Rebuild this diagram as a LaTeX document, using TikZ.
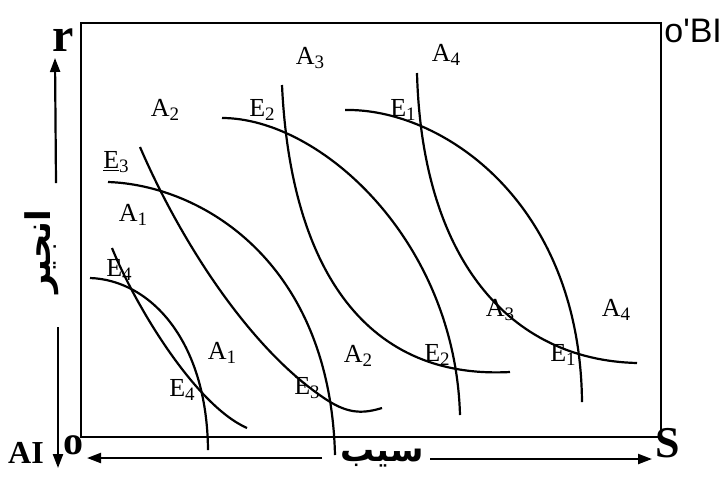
\documentclass[tikz,border=0pt]{standalone}
\usepackage{fontspec}
\setmainfont{Liberation Serif}
\newfontfamily\arabicfont[Script=Arabic]{DejaVu Sans}
\newfontfamily\helv{Liberation Sans}
\TeXXeTstate=1
\usepackage{tikz}
\usetikzlibrary{positioning,arrows.meta}
\newcommand{\lab}[2]{#1\raisebox{-0.4ex}{\fontsize{9.5}{10}\selectfont #2}}

\begin{document}
\begin{tikzpicture}[x=0.5pt,y=-0.5pt,
  curve/.style={draw=black,line width=1.1pt},
  frame/.style={draw=black,line width=1.3pt},
  lbl/.style={inner sep=0pt,font=\fontsize{13}{15}\selectfont},
  big/.style={inner sep=0pt,font=\fontsize{20}{22}\selectfont\bfseries},
  farsi/.style={inner sep=0pt,font=\fontsize{17}{20}\selectfont\arabicfont\bfseries},
  ax/.style={-{Triangle[length=7pt,width=5pt]},draw=black,line width=1.1pt}]
  \useasboundingbox (0,0) rectangle (727,478);
  \draw[frame] (81,23) rectangle (661,437);
  % E curves (concave) and A curves
  \draw[curve] (90,278) .. controls (150,280) and (207,340) .. (208,450);
  \draw[curve] (112,248) .. controls (135,305) and (195,405) .. (247,428);
  \draw[curve] (108,182) .. controls (200,185) and (330,260) .. (335,455);
  \draw[curve] (140,147) .. controls (180,240) and (250,350) .. (327,400)
                .. controls (350,415) and (365,413) .. (382,408);
  \draw[curve] (222,118) .. controls (320,118) and (455,240) .. (460,415);
  \draw[curve] (282,85) .. controls (290,260) and (360,380) .. (510,372);
  \draw[curve] (345,110) .. controls (440,108) and (580,200) .. (582,402);
  \draw[curve] (417,73) .. controls (422,260) and (510,360) .. (637,363);
  % curve labels
  \node[lbl] (a3t) at (310,58) {\lab{A}{3}};
  \node[lbl] (a4t) at (446,55) {\lab{A}{4}};
  \node[lbl] (a2t) at (165,110) {\lab{A}{2}};
  \node[lbl] (e2t) at (262,110) {\lab{E}{2}};
  \node[lbl] (e1t) at (403,110) {\lab{E}{1}};
  \node[lbl] (e3t) at (116,162) {\lab{\underline{E}}{3}};
  \node[lbl] (a1t) at (133,215) {\lab{A}{1}};
  \node[lbl] (e4t) at (119,270) {\lab{E}{4}};
  \node[lbl] (a1b) at (222,353) {\lab{A}{1}};
  \node[lbl] (e4b) at (182,390) {\lab{E}{4}};
  \node[lbl] (e3b) at (307,388) {\lab{E}{3}};
  \node[lbl] (a2b) at (358,356) {\lab{A}{2}};
  \node[lbl] (e2b) at (437,355) {\lab{E}{2}};
  \node[lbl] (a3b) at (500,310) {\lab{A}{3}};
  \node[lbl] (e1b) at (563,355) {\lab{E}{1}};
  \node[lbl] (a4b) at (616,310) {\lab{A}{4}};
  % corner letters
  \node[big,font=\fontsize{24}{26}\selectfont\bfseries] (r) at (63,40) {r};
  \node[big] (o) at (73,445) {o};
  \node[big,font=\fontsize{16}{18}\selectfont\bfseries] (ai) at (26,453) {AI};
  \node[big,font=\fontsize{22}{24}\selectfont\bfseries] (s) at (668,443) {S};
  \node[inner sep=0pt,anchor=west,font=\fontsize{17}{19}\selectfont\helv] (ob) at (664,31) {o'BI};
  % axes
  \node[farsi,rotate=90] (fig) at (42,252) {\beginR انجیر\endR};
  \node[farsi] (apple) at (382,458) {\beginR سیب\endR};
  \coordinate (yup) at (56,183);
  \coordinate (ytip) at (55,58);
  \coordinate (ydn) at (58,327);
  \coordinate (ybot) at (58,468);
  \coordinate (xl) at (322,458);
  \coordinate (xltip) at (87,458);
  \coordinate (xr) at (430,459);
  \coordinate (xrtip) at (652,459);
  \draw[ax] (yup) -- (ytip);
  \draw[ax] (ydn) -- (ybot);
  \draw[ax] (xl) -- (xltip);
  \draw[ax] (xr) -- (xrtip);
\end{tikzpicture}
\end{document}
